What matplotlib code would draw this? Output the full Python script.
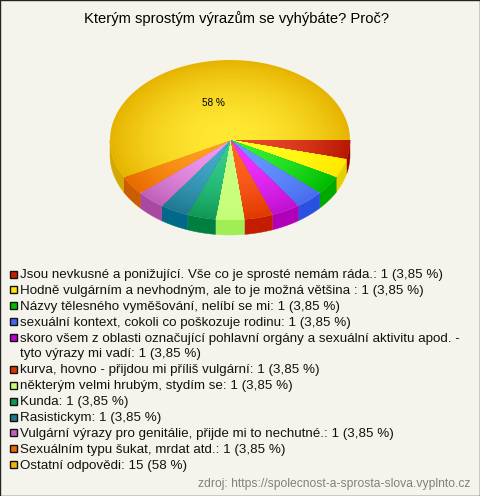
import numpy as np
import matplotlib
matplotlib.use("Agg")
import matplotlib.pyplot as plt
from matplotlib.colors import to_rgb
from matplotlib.patches import Polygon, Rectangle

plt.rcParams['font.family'] = ['Liberation Sans', 'DejaVu Sans']

title = "Kterým sprostým výrazům se vyhýbáte? Proč?"
source = "zdroj: https://spolecnost-a-sprosta-slova.vyplnto.cz"
labels = [
    "Jsou nevkusné a ponižující. Vše co je sprosté nemám ráda.",
    "Hodně vulgárním a nevhodným, ale to je možná většina ",
    "Názvy tělesného vyměšování, nelíbí se mi",
    "sexuální kontext, cokoli co poškozuje rodinu",
    "skoro všem z oblasti označující pohlavní orgány a sexuální aktivitu apod. -\ntyto výrazy mi vadí",
    "kurva, hovno - přijdou mi příliš vulgární",
    "některým velmi hrubým, stydím se",
    "Kunda",
    "Rasistickym",
    "Vulgární výrazy pro genitálie, přijde mi to nechutné.",
    "Sexuálním typu šukat, mrdat atd.",
    "Ostatní odpovědi",
]
values = [1, 1, 1, 1, 1, 1, 1, 1, 1, 1, 1, 15]
pct_labels = ["3,85"] * 11 + ["58"]

inner = ["#e8482a", "#ffff20", "#33ee33", "#6699ff", "#ee33ff", "#ff6622",
         "#ccff80", "#33cc88", "#44aacc", "#ee99ee", "#ffa020", "#ffe833"]
outer = ["#b81800", "#ffe800", "#00bb00", "#4a6cf0", "#c010d0", "#e03800",
         "#c4fd78", "#109858", "#207890", "#c060b8", "#e86a00", "#e6b400"]
side = ["#9c0000", "#e6d000", "#00a800", "#2a50e0", "#b000b8", "#c41c00",
        "#a0ee55", "#008040", "#006888", "#a848a0", "#cc5c00", "#d4a800"]
swatch = ["#c81e00", "#ffe800", "#00bb00", "#4466ee", "#bb00cc", "#dd3300",
          "#c4fd78", "#109858", "#207890", "#c060b8", "#e86a00", "#eeb800"]

BG = "#f5f4ec"
W, H = 480, 496
fig = plt.figure(figsize=(W / 100, H / 100), dpi=100, facecolor=BG)
ax = fig.add_axes([0, 0, 1, 1])
ax.set_xlim(0, W)
ax.set_ylim(H, 0)
ax.axis("off")

CX, CY, RX, RY, DEPTH = 230, 140, 120, 80, 15
edges = np.radians(np.concatenate([[0], np.cumsum(values)]) / sum(values) * 360)


def rim(a0, a1, f=1.0, n=80):
    t = np.linspace(a0, a1, n)
    return CX + f * RX * np.cos(t), CY + f * RY * np.sin(t)


# side walls (front half only)
for i in range(len(values)):
    a0, a1 = edges[i], min(edges[i + 1], np.pi)
    if a0 >= np.pi:
        continue
    x, y = rim(a0, a1)
    pts = np.vstack([np.c_[x, y], np.c_[x[::-1], y[::-1] + DEPTH]])
    ax.add_patch(Polygon(pts, closed=True, fc=side[i], ec=side[i], lw=0.3, zorder=2))

# top face with radial shading
STEPS = 40
for i in range(len(values)):
    c0, c1 = np.array(to_rgb(inner[i])), np.array(to_rgb(outer[i]))
    for s in range(STEPS, 0, -1):
        f = s / STEPS
        col = c0 + (c1 - c0) * f ** 2.0
        x, y = rim(edges[i], edges[i + 1], f)
        pts = np.vstack([[CX, CY], np.c_[x, y]])
        ax.add_patch(Polygon(pts, closed=True, fc=col, ec="none", zorder=3))

ax.text(213, 103, f"{pct_labels[-1]} %", fontsize=7.2, ha="center", va="center",
        color="black", zorder=5)
ax.text(237, 19, title, fontsize=10.6, ha="center", va="center", color="black")

# legend
y = 275
for lab, v, p, c in zip(labels, values, pct_labels, swatch):
    ax.add_patch(Rectangle((9.5, y - 4.5), 7, 7, fc=c, ec="#111111", lw=1.0, zorder=4))
    lines = f"{lab}: {v} ({p} %)".split("\n")
    for line in lines:
        ax.text(20, y, line, fontsize=9.6, va="center", ha="left", color="#111111")
        y += 15.9

ax.text(470, 484, source, fontsize=8.7, ha="right", va="center", color="#808080")
ax.add_patch(Rectangle((0, 0), W - 0.5, H - 0.5, fc="none", ec="#222222", lw=1, zorder=6))
fig.savefig("out.png", dpi=100, facecolor=BG)
